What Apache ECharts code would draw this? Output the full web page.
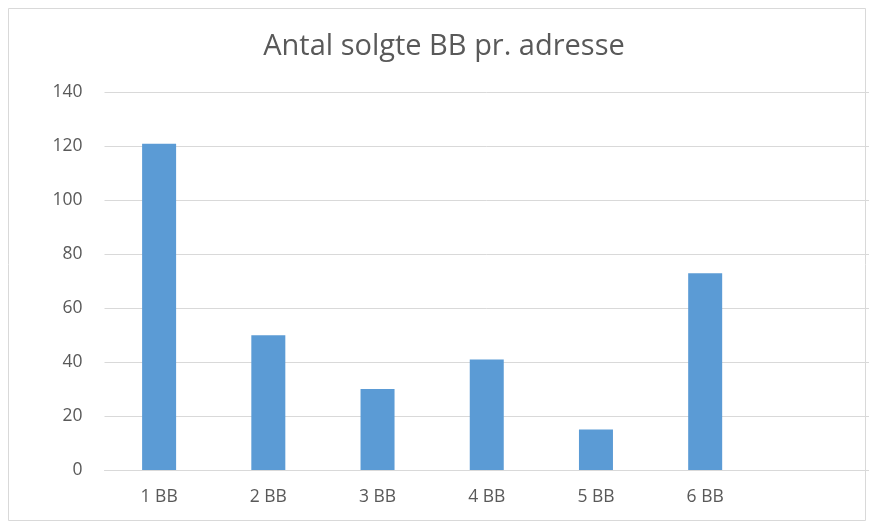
<!DOCTYPE html>
<html>
<head>
<meta charset="utf-8">
<script src="https://cdn.jsdelivr.net/npm/echarts@6/dist/echarts.min.js"></script>
<style>
html,body{margin:0;padding:0;background:#fff;}
#chart{width:869px;height:524px;}
</style>
</head>
<body>
<div id="chart"></div>
<script>
const titleText = 'Antal solgte BB pr. adresse';
const categories = ['1 BB', '2 BB', '3 BB', '4 BB', '5 BB', '6 BB'];
const values = [121, 50, 30, 41, 15, 73];
const yTicks = [0, 20, 40, 60, 80, 100, 120, 140];

const chart = echarts.init(document.getElementById('chart'), null, {renderer: 'canvas'});
const font = 'Open Sans';
chart.setOption({
  backgroundColor: '#ffffff',
  animation: false,
  graphic: [{
    type: 'rect',
    shape: {x: 8.5, y: 8.5, width: 857, height: 512},
    style: {fill: 'none', stroke: '#d9d9d9', lineWidth: 1},
    silent: true,
    z: -1
  }],
  title: {
    text: titleText,
    left: 439,
    top: 27,
    textAlign: 'center',
    textStyle: {fontFamily: font, fontSize: 29, fontWeight: 'normal', color: '#595959'}
  },
  grid: {left: 104.5, top: 92.5, width: 777, height: 377.5, containLabel: false},
  xAxis: {
    type: 'category',
    data: categories.concat(['']),
    axisLine: {show: true, lineStyle: {color: '#d9d9d9', width: 1}},
    axisTick: {show: false},
    axisLabel: {fontFamily: font, fontSize: 17.5, color: '#595959', margin: 18}
  },
  yAxis: {
    type: 'value',
    min: yTicks[0],
    max: yTicks[yTicks.length - 1],
    interval: 20,
    axisLine: {show: false},
    axisTick: {show: false},
    splitLine: {lineStyle: {color: '#d9d9d9', width: 1}},
    axisLabel: {fontFamily: font, fontSize: 17.5, color: '#595959', margin: 22}
  },
  series: [{
    type: 'bar',
    data: values,
    barWidth: 34,
    itemStyle: {color: '#5b9bd5'}
  }]
});
</script>
</body>
</html>
